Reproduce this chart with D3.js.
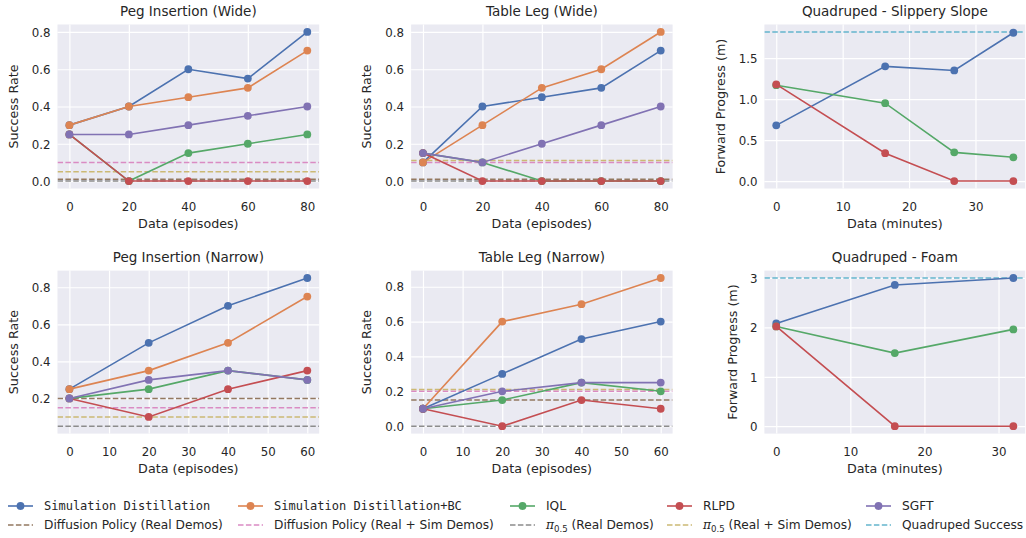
<!DOCTYPE html>
<html>
<head>
<meta charset="utf-8">
<script src="https://cdn.jsdelivr.net/npm/d3@7"></script>
<style>
  html, body { margin: 0; padding: 0; background: #ffffff; }
  svg { display: block; font-family: "DejaVu Sans", sans-serif; }
</style>
</head>
<body>
<svg id="chart" width="1026" height="538"></svg>
<script>
// ---------------- DATA ----------------
const methodNames = ["Simulation Distillation", "Simulation Distillation+BC", "IQL", "RLPD", "SGFT"];
const baselineNames = ["Diffusion Policy (Real Demos)", "Diffusion Policy (Real + Sim Demos)", "π0.5 (Real Demos)", "π0.5 (Real + Sim Demos)", "Quadruped Success"];
const methodColors = ["#4C72B0", "#DD8452", "#55A868", "#C44E52", "#8172B3"];
const baselineColors = ["#937860", "#DA8BC3", "#8C8C8C", "#CCB974", "#64B5CD"];

// Peg Insertion (Wide)
const pegWideX = [0, 20, 40, 60, 80];
const pegWideSimDist = [0.30, 0.40, 0.60, 0.55, 0.80];
const pegWideSimDistBC = [0.30, 0.40, 0.45, 0.50, 0.70];
const pegWideIQL = [0.25, 0.00, 0.15, 0.20, 0.25];
const pegWideRLPD = [0.25, 0.00, 0.00, 0.00, 0.00];
const pegWideSGFT = [0.25, 0.25, 0.30, 0.35, 0.40];
const pegWideBaselines = [0.01, 0.10, 0.00, 0.05, null];

// Table Leg (Wide)
const tableWideX = [0, 20, 40, 60, 80];
const tableWideSimDist = [0.10, 0.40, 0.45, 0.50, 0.70];
const tableWideSimDistBC = [0.10, 0.30, 0.50, 0.60, 0.80];
const tableWideIQL = [0.15, 0.10, 0.00, 0.00, 0.00];
const tableWideRLPD = [0.15, 0.00, 0.00, 0.00, 0.00];
const tableWideSGFT = [0.15, 0.10, 0.20, 0.30, 0.40];
const tableWideBaselines = [0.01, 0.10, 0.00, 0.11, null];

// Quadruped - Slippery Slope
const slopeX = [0, 16.4, 26.8, 35.7];
const slopeSimDist = [0.68, 1.40, 1.35, 1.81];
const slopeIQL = [1.17, 0.95, 0.35, 0.29];
const slopeRLPD = [1.18, 0.34, 0.00, 0.00];
const slopeBaselines = [null, null, null, null, 1.82];

// Peg Insertion (Narrow)
const pegNarrowX = [0, 20, 40, 60];
const pegNarrowSimDist = [0.25, 0.50, 0.70, 0.85];
const pegNarrowSimDistBC = [0.25, 0.35, 0.50, 0.75];
const pegNarrowIQL = [0.20, 0.25, 0.35, 0.30];
const pegNarrowRLPD = [0.20, 0.10, 0.25, 0.35];
const pegNarrowSGFT = [0.20, 0.30, 0.35, 0.30];
const pegNarrowBaselines = [0.20, 0.15, 0.05, 0.10, null];

// Table Leg (Narrow)
const tableNarrowX = [0, 20, 40, 60];
const tableNarrowSimDist = [0.10, 0.30, 0.50, 0.60];
const tableNarrowSimDistBC = [0.10, 0.60, 0.70, 0.85];
const tableNarrowIQL = [0.10, 0.15, 0.25, 0.20];
const tableNarrowRLPD = [0.10, 0.00, 0.15, 0.10];
const tableNarrowSGFT = [0.10, 0.20, 0.25, 0.25];
const tableNarrowBaselines = [0.15, 0.20, 0.00, 0.21, null];

// Quadruped - Foam
const foamX = [0, 16, 32];
const foamSimDist = [2.08, 2.86, 3.00];
const foamIQL = [2.02, 1.48, 1.96];
const foamRLPD = [2.02, 0.00, 0.00];
const foamBaselines = [null, null, null, null, 3.00];

// Tick values
const ticksEpisodesWide = [0, 20, 40, 60, 80];
const ticksEpisodesNarrow = [0, 10, 20, 30, 40, 50, 60];
const ticksMinutes = [0, 10, 20, 30];
const ticksSuccessWide = [0, 0.2, 0.4, 0.6, 0.8];
const ticksSuccessNarrowPeg = [0.2, 0.4, 0.6, 0.8];
const ticksSuccessNarrowTable = [0, 0.2, 0.4, 0.6, 0.8];
const ticksSlope = [0, 0.5, 1.0, 1.5];
const ticksFoam = [0, 1, 2, 3];

// ---------------- PANELS ----------------
const panels = [
  { title: "Peg Insertion (Wide)", x: pegWideX, series: [pegWideSimDist, pegWideSimDistBC, pegWideIQL, pegWideRLPD, pegWideSGFT],
    baselines: pegWideBaselines, xticks: ticksEpisodesWide, yticks: ticksSuccessWide, yfmt: ".1f",
    xlabel: "Data (episodes)", ylabel: "Success Rate", left: 57.5, top: 24.5, w: 261.7, h: 164, ylabOff: 39.8 },
  { title: "Table Leg (Wide)", x: tableWideX, series: [tableWideSimDist, tableWideSimDistBC, tableWideIQL, tableWideRLPD, tableWideSGFT],
    baselines: tableWideBaselines, xticks: ticksEpisodesWide, yticks: ticksSuccessWide, yfmt: ".1f",
    xlabel: "Data (episodes)", ylabel: "Success Rate", left: 411.1, top: 24.5, w: 261.5, h: 164, ylabOff: 39.8 },
  { title: "Quadruped - Slippery Slope", x: slopeX, series: [slopeSimDist, null, slopeIQL, slopeRLPD, null],
    baselines: slopeBaselines, xticks: ticksMinutes, yticks: ticksSlope, yfmt: ".1f",
    xlabel: "Data (minutes)", ylabel: "Forward Progress (m)", left: 764.4, top: 24.5, w: 260.8, h: 164, ylabOff: 39.8 },
  { title: "Peg Insertion (Narrow)", x: pegNarrowX, series: [pegNarrowSimDist, pegNarrowSimDistBC, pegNarrowIQL, pegNarrowRLPD, pegNarrowSGFT],
    baselines: pegNarrowBaselines, xticks: ticksEpisodesNarrow, yticks: ticksSuccessNarrowPeg, yfmt: ".1f",
    xlabel: "Data (episodes)", ylabel: "Success Rate", left: 57.5, top: 270.6, w: 261.7, h: 163, ylabOff: 39.8 },
  { title: "Table Leg (Narrow)", x: tableNarrowX, series: [tableNarrowSimDist, tableNarrowSimDistBC, tableNarrowIQL, tableNarrowRLPD, tableNarrowSGFT],
    baselines: tableNarrowBaselines, xticks: ticksEpisodesNarrow, yticks: ticksSuccessNarrowTable, yfmt: ".1f",
    xlabel: "Data (episodes)", ylabel: "Success Rate", left: 411.1, top: 270.6, w: 261.5, h: 163, ylabOff: 39.8 },
  { title: "Quadruped - Foam", x: foamX, series: [foamSimDist, null, foamIQL, foamRLPD, null],
    baselines: foamBaselines, xticks: ticksMinutes, yticks: ticksFoam, yfmt: "d",
    xlabel: "Data (minutes)", ylabel: "Forward Progress (m)", left: 764.4, top: 270.6, w: 260.8, h: 163, ylabOff: 27.8 }
];

const svg = d3.select("#chart");
const textColor = "#262626";
const tickFont = 11.8, labelFont = 12.7, titleFont = 13.5, legendFont = 12.2;

function padded(min, max) {
  const p = (max - min) * 0.05;
  return [min - p, max + p];
}

panels.forEach(pn => {
  const yvals = [];
  pn.series.forEach(s => { if (s) yvals.push(...s); });
  pn.baselines.forEach(b => { if (b !== null) yvals.push(b); });
  const x = d3.scaleLinear().domain(padded(d3.min(pn.x), d3.max(pn.x))).range([pn.left, pn.left + pn.w]);
  const y = d3.scaleLinear().domain(padded(d3.min(yvals), d3.max(yvals))).range([pn.top + pn.h, pn.top]);
  const g = svg.append("g");
  const bottom = pn.top + pn.h;

  g.append("rect").attr("x", pn.left).attr("y", pn.top).attr("width", pn.w).attr("height", pn.h).attr("fill", "#EAEAF2");

  // grid via axes
  const xAxis = d3.axisBottom(x).tickValues(pn.xticks).tickSize(-pn.h).tickFormat(d3.format("d"));
  const yAxis = d3.axisLeft(y).tickValues(pn.yticks).tickSize(-pn.w).tickFormat(d3.format(pn.yfmt));
  const gx = g.append("g").attr("transform", `translate(0,${bottom})`).call(xAxis);
  const gy = g.append("g").attr("transform", `translate(${pn.left},0)`).call(yAxis);
  [gx, gy].forEach(ax => {
    ax.select(".domain").remove();
    ax.selectAll(".tick line").attr("stroke", "#ffffff").attr("stroke-width", 1.2);
    ax.selectAll(".tick text").attr("fill", textColor).attr("font-size", tickFont).attr("font-family", "DejaVu Sans");
  });
  gx.selectAll(".tick text").attr("y", 22).attr("dy", 0);
  gy.selectAll(".tick text").attr("x", -7).attr("dy", "0.36em");

  // clip
  const clipId = "clip" + Math.round(pn.left) + "_" + Math.round(pn.top);
  svg.append("clipPath").attr("id", clipId).append("rect")
    .attr("x", pn.left).attr("y", pn.top).attr("width", pn.w).attr("height", pn.h);
  const plot = g.append("g").attr("clip-path", `url(#${clipId})`);

  // baselines (horizontal dashed)
  pn.baselines.forEach((b, i) => {
    if (b === null) return;
    plot.append("line").attr("x1", pn.left).attr("x2", pn.left + pn.w)
      .attr("y1", y(b)).attr("y2", y(b))
      .attr("stroke", baselineColors[i]).attr("stroke-width", 1.5).attr("stroke-dasharray", "5.5,2.4");
  });

  // series
  const line = d3.line().x((d, i) => x(pn.x[i])).y(d => y(d));
  pn.series.forEach((s, i) => {
    if (!s) return;
    plot.append("path").attr("d", line(s)).attr("fill", "none")
      .attr("stroke", methodColors[i]).attr("stroke-width", 1.6);
    plot.selectAll(null).data(s).enter().append("circle")
      .attr("cx", (d, j) => x(pn.x[j])).attr("cy", d => y(d)).attr("r", 3.9)
      .attr("fill", methodColors[i]);
  });

  // title
  g.append("text").attr("x", pn.left + pn.w / 2).attr("y", pn.top - 8.3)
    .attr("text-anchor", "middle").attr("font-size", titleFont).attr("fill", textColor).text(pn.title);
  // x label
  g.append("text").attr("x", pn.left + pn.w / 2).attr("y", bottom + 39.5)
    .attr("text-anchor", "middle").attr("font-size", labelFont).attr("fill", textColor).text(pn.xlabel);
  // y label
  const ly = pn.top + pn.h / 2, lx = pn.left - pn.ylabOff;
  g.append("text").attr("transform", `translate(${lx},${ly}) rotate(-90)`)
    .attr("text-anchor", "middle").attr("font-size", labelFont).attr("fill", textColor).text(pn.ylabel);
});

// ---------------- LEGEND ----------------
const legendCols = [8, 238, 510, 667, 866];
const legendRows = [506, 525];
const leg = svg.append("g");

function legendLabel(t, name, mono) {
  if (name.startsWith("π0.5")) {
    t.append("tspan").attr("font-style", "italic").attr("font-family", "DejaVu Serif").text("π");
    t.append("tspan").attr("font-size", 8.6).attr("dy", 3).text("0.5");
    t.append("tspan").attr("dy", -3).text(" " + name.slice(5));
  } else {
    if (mono) t.attr("font-family", "DejaVu Sans Mono").attr("font-size", 12);
    t.text(name);
  }
}

methodNames.forEach((name, i) => {
  const x0 = legendCols[i], yy = legendRows[0];
  leg.append("line").attr("x1", x0).attr("x2", x0 + 25).attr("y1", yy).attr("y2", yy)
    .attr("stroke", methodColors[i]).attr("stroke-width", 1.6);
  leg.append("circle").attr("cx", x0 + 12.5).attr("cy", yy).attr("r", 3.9).attr("fill", methodColors[i]);
  const t = leg.append("text").attr("x", x0 + 36).attr("y", yy).attr("dy", "0.36em")
    .attr("font-size", legendFont).attr("fill", textColor);
  legendLabel(t, name, i < 2);
});
baselineNames.forEach((name, i) => {
  const x0 = legendCols[i], yy = legendRows[1];
  leg.append("line").attr("x1", x0).attr("x2", x0 + 25).attr("y1", yy).attr("y2", yy)
    .attr("stroke", baselineColors[i]).attr("stroke-width", 1.5).attr("stroke-dasharray", "5.5,2.4");
  const t = leg.append("text").attr("x", x0 + 36).attr("y", yy).attr("dy", "0.36em")
    .attr("font-size", legendFont).attr("fill", textColor);
  legendLabel(t, name, false);
});
</script>
</body>
</html>
